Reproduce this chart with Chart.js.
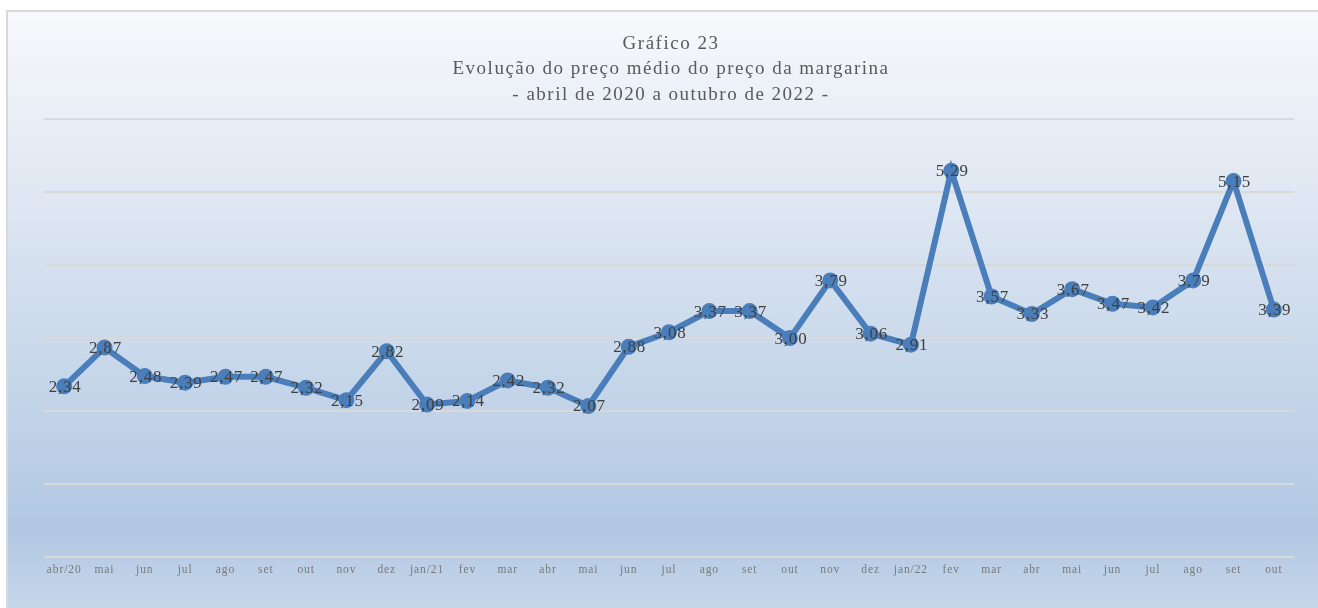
<!DOCTYPE html>
<html>
<head>
<meta charset="utf-8">
<script src="https://cdn.jsdelivr.net/npm/chart.js@4"></script>
<style>
html,body{margin:0;padding:0;background:#ffffff;}
#wrap{width:1318px;height:608px;position:relative;}
</style>
</head>
<body>
<div id="wrap"><canvas id="c" width="1318" height="608"></canvas></div>
<script>
const categories = ["abr/20","mai","jun","jul","ago","set","out","nov","dez","jan/21","fev","mar","abr","mai","jun","jul","ago","set","out","nov","dez","jan/22","fev","mar","abr","mai","jun","jul","ago","set","out"];
const prices = [2.34,2.87,2.48,2.39,2.47,2.47,2.32,2.15,2.82,2.09,2.14,2.42,2.32,2.07,2.88,3.08,3.37,3.37,3.00,3.79,3.06,2.91,5.29,3.57,3.33,3.67,3.47,3.42,3.79,5.15,3.39];
const titleLines = ["Gráfico 23","Evolução do preço médio do preço da margarina","- abril de 2020 a outubro de 2022 -"];

const SERIF = "'Liberation Serif','DejaVu Serif',serif";

const bgPlugin = {
  id: 'bg',
  beforeDraw(chart) {
    const ctx = chart.ctx;
    const W = chart.width, H = chart.height;
    ctx.save();
    const g = ctx.createLinearGradient(0, 10, 0, H);
    g.addColorStop(0, '#f7f9fc');
    g.addColorStop(0.3, '#e0e8f3');
    g.addColorStop(0.6, '#c7d7ea');
    g.addColorStop(0.87, '#b2c8e2');
    g.addColorStop(1, '#c5d6ea');
    ctx.fillStyle = g;
    ctx.fillRect(7, 11, W - 7, H - 11);
    ctx.strokeStyle = '#d9d9d9';
    ctx.lineWidth = 2;
    ctx.beginPath();
    ctx.moveTo(7, H);
    ctx.lineTo(7, 11);
    ctx.lineTo(W, 11);
    ctx.stroke();
    ctx.restore();

    // title lines
    ctx.save();
    ctx.font = "19px " + SERIF;
    ctx.fillStyle = '#595959';
    ctx.textAlign = 'center';
    ctx.textBaseline = 'middle';
    ctx.letterSpacing = '1.5px';
    const cx = (chart.chartArea.left + chart.chartArea.right) / 2 + 2;
    titleLines.forEach((t, i) => {
      ctx.fillText(t, cx, 44 + i * 25.5);
    });
    ctx.restore();
    // letter spacing for tick labels
    ctx.letterSpacing = '0.9px';
  },
  afterDraw(chart) {
    chart.ctx.letterSpacing = '0px';
  }
};

const labelPlugin = {
  id: 'vlabels',
  afterDatasetsDraw(chart) {
    const ctx = chart.ctx;
    const meta = chart.getDatasetMeta(0);
    ctx.save();
    ctx.font = "17px " + SERIF;
    ctx.letterSpacing = '0.8px';
    ctx.fillStyle = '#404040';
    ctx.textAlign = 'center';
    ctx.textBaseline = 'middle';
    meta.data.forEach((pt, i) => {
      const v = chart.data.datasets[0].data[i];
      ctx.fillText(v.toFixed(2).replace('.', ','), pt.x + 1, pt.y + 1);
    });
    ctx.restore();
  }
};

new Chart(document.getElementById('c'), {
  type: 'line',
  data: {
    labels: categories,
    datasets: [{
      data: prices,
      borderColor: '#4a7ebb',
      backgroundColor: '#4a7ebb',
      borderWidth: 6,
      pointRadius: 8,
      pointHoverRadius: 8,
      pointBackgroundColor: '#4a7ebb',
      pointBorderWidth: 0,
      tension: 0
    }]
  },
  options: {
    responsive: false,
    animation: false,
    devicePixelRatio: 1,
    layout: { padding: { left: 44, right: 24, top: 119, bottom: 25 } },
    plugins: {
      legend: { display: false },
      tooltip: { enabled: false },
      title: { display: false }
    },
    scales: {
      x: {
        offset: true,
        grid: { display: false, drawTicks: false },
        border: { display: false },
        ticks: {
          color: '#7a7a7a',
          font: { family: SERIF, size: 11.5 },
          padding: 6,
          maxRotation: 0,
          autoSkip: false
        }
      },
      y: {
        min: 0,
        max: 6,
        ticks: { display: false, stepSize: 1 },
        grid: { color: '#d9d9d9', lineWidth: 2, drawTicks: false },
        border: { display: false }
      }
    }
  },
  plugins: [bgPlugin, labelPlugin]
});
</script>
</body>
</html>
